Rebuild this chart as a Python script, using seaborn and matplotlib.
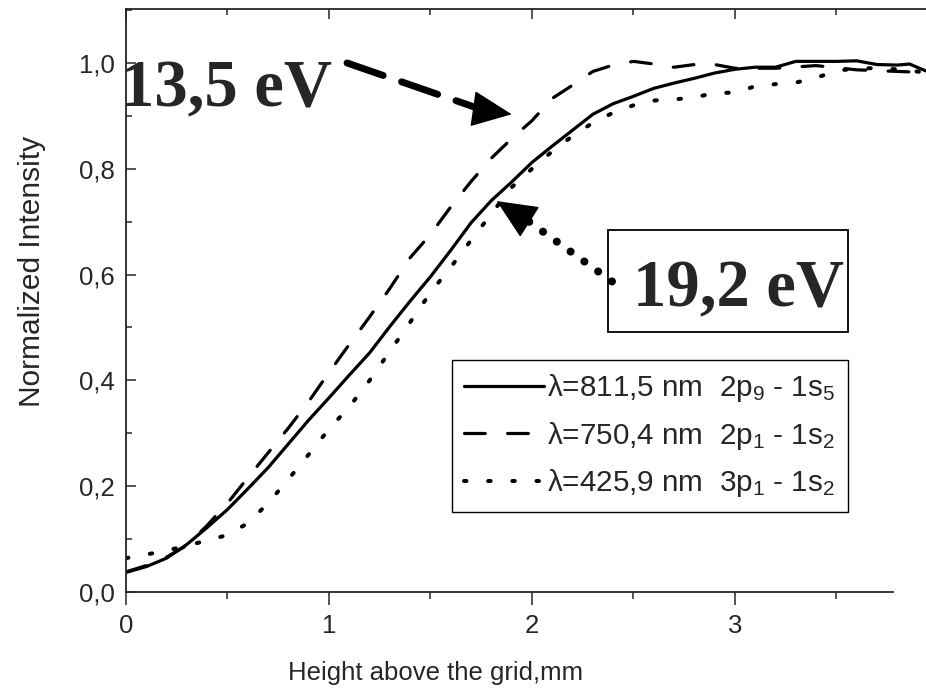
import matplotlib
matplotlib.use('Agg')
import matplotlib.pyplot as plt
import numpy as np
import seaborn as sns
from matplotlib.ticker import MultipleLocator, FuncFormatter
from matplotlib.patches import Rectangle

sns.set_style('ticks')
plt.rcParams['font.family'] = ['Liberation Sans', 'DejaVu Sans']
plt.rcParams['mathtext.fontset'] = 'custom'
plt.rcParams['mathtext.rm'] = 'Liberation Sans'
plt.rcParams['mathtext.it'] = 'Liberation Sans:italic'
plt.rcParams['mathtext.default'] = 'rm'

# Height above the grid (mm) vs normalized intensity
x_811 = [0.0, 0.1, 0.2, 0.3, 0.4, 0.5, 0.6, 0.7, 0.8, 0.9, 1.0, 1.1, 1.2, 1.3, 1.4,
         1.5, 1.6, 1.7, 1.8, 1.9, 2.0, 2.1, 2.2, 2.3, 2.4, 2.5, 2.6, 2.7, 2.8, 2.9,
         3.0, 3.1, 3.2, 3.3, 3.4, 3.5, 3.6, 3.7, 3.8, 3.86, 3.94]
y_811 = [0.037, 0.048, 0.064, 0.090, 0.122, 0.156, 0.195, 0.235, 0.280, 0.325, 0.367,
         0.410, 0.452, 0.502, 0.550, 0.596, 0.646, 0.698, 0.740, 0.775, 0.812, 0.843,
         0.873, 0.903, 0.923, 0.937, 0.952, 0.962, 0.971, 0.981, 0.988, 0.992, 0.992,
         1.003, 1.003, 1.003, 1.004, 0.997, 0.996, 0.998, 0.985]

x_750 = [0.0, 0.1, 0.2, 0.3, 0.4, 0.5, 0.6, 0.7, 0.8, 0.9, 1.0, 1.1, 1.2, 1.3, 1.4,
         1.5, 1.6, 1.7, 1.8, 1.9, 2.0, 2.1, 2.2, 2.3, 2.4, 2.5, 2.6, 2.7, 2.8, 2.9,
         3.0, 3.2, 3.4, 3.6, 3.8, 3.94]
y_750 = [0.038, 0.050, 0.066, 0.088, 0.126, 0.168, 0.216, 0.263, 0.310, 0.360, 0.415,
         0.468, 0.520, 0.574, 0.632, 0.676, 0.728, 0.776, 0.820, 0.857, 0.891, 0.933,
         0.958, 0.984, 0.996, 1.003, 0.998, 0.992, 0.997, 0.997, 0.990, 0.990, 0.995,
         0.987, 0.984, 0.982]

x_425 = [0.0, 0.1, 0.2, 0.3, 0.4, 0.5, 0.6, 0.7, 0.8, 0.9, 1.0, 1.1, 1.2, 1.3, 1.4,
         1.5, 1.6, 1.7, 1.8, 1.9, 2.0, 2.1, 2.2, 2.3, 2.4, 2.5, 2.6, 2.7, 2.8, 2.9,
         3.0, 3.1, 3.2, 3.3, 3.4, 3.5, 3.6, 3.7, 3.8, 3.94]
y_425 = [0.064, 0.071, 0.078, 0.088, 0.097, 0.108, 0.130, 0.168, 0.213, 0.260, 0.308,
         0.350, 0.400, 0.455, 0.510, 0.566, 0.614, 0.665, 0.715, 0.765, 0.800, 0.833,
         0.862, 0.887, 0.906, 0.920, 0.929, 0.931, 0.935, 0.943, 0.944, 0.956, 0.960,
         0.963, 0.972, 0.985, 0.990, 0.990, 0.988, 0.982]

labels = ['λ=811,5 nm  2p$_9$ - 1s$_5$',
          'λ=750,4 nm  2p$_1$ - 1s$_2$',
          'λ=425,9 nm  3p$_1$ - 1s$_2$']

comma = FuncFormatter(lambda v, p: f'{v:.1f}'.replace('.', ','))

fig = plt.figure(figsize=(9.26, 6.97), dpi=100)
ax = fig.add_axes([0.13607, 0.15065, 0.86393, 0.83644])

sns.lineplot(x=x_811, y=y_811, ax=ax, color='black', lw=2.3, errorbar=None,
             label=labels[0])
sns.lineplot(x=x_750, y=y_750, ax=ax, color='black', lw=2.3, errorbar=None,
             linestyle=(0, (6.5, 7)), dash_capstyle='round', label=labels[1])
sns.lineplot(x=x_425, y=y_425, ax=ax, color='black', lw=2.9, errorbar=None,
             linestyle=(0, (0.6, 5.4)), dash_capstyle='round', label=labels[2])

ax.set_xlim(0, 3.941)
ax.set_ylim(0, 1.102)
ax.xaxis.set_major_locator(MultipleLocator(1))
ax.xaxis.set_minor_locator(MultipleLocator(0.5))
ax.yaxis.set_major_locator(MultipleLocator(0.2))
ax.yaxis.set_minor_locator(MultipleLocator(0.1))
ax.yaxis.set_major_formatter(comma)

ax.spines['right'].set_visible(False)
ax.spines['top'].set_visible(False)
for s in ['left', 'bottom']:
    ax.spines[s].set_linewidth(1.3)
ax.spines['bottom'].set_bounds(0, 3.78)

ax.tick_params(axis='x', which='major', direction='out', length=9, width=1.1,
               labelsize=18.5, pad=7, top=False)
ax.tick_params(axis='x', which='minor', direction='out', length=5, width=1.1, top=False)
ax.tick_params(axis='y', which='major', direction='in', length=7.5, width=1.1,
               labelsize=18.5, pad=8, right=False)
ax.tick_params(axis='y', which='minor', direction='in', length=4.5, width=1.1, right=False)

top = ax.secondary_xaxis('top')
top.xaxis.set_major_locator(MultipleLocator(1))
top.xaxis.set_minor_locator(MultipleLocator(0.5))
top.tick_params(which='major', direction='in', length=7, width=1.1, labeltop=False)
top.tick_params(which='minor', direction='in', length=4.5, width=1.1)
top.spines['top'].set_linewidth(1.3)

ax.set_xlabel('Height above the grid,mm', fontsize=18.5)
ax.set_ylabel('Normalized Intensity', fontsize=21.5)
ax.xaxis.set_label_coords(0.3875, -0.118)
ax.yaxis.set_label_coords(-0.10, 0.55)

leg = ax.legend(loc='upper left', bbox_to_anchor=(0.4075, 0.398), borderaxespad=0,
                frameon=True, fancybox=False, edgecolor='black', framealpha=1,
                handlelength=2.7, handletextpad=0.1, borderpad=0.42,
                labelspacing=0.52, fontsize=21.3)
leg.get_frame().set_linewidth(1.0)

# big labels and arrows
serif = dict(family=['Liberation Serif', 'DejaVu Serif'], fontweight='bold', fontsize=48)
ax.text(-0.025, 0.917, '13,5 eV', ha='left', va='baseline', zorder=6, **serif)
ax.text(2.497, 0.540, '19,2 eV', ha='left', va='baseline', zorder=6, **serif)
ax.add_patch(Rectangle((2.374, 0.492), 1.183, 0.192, fill=False, ec='black', lw=1.3))

ax.annotate('', xy=(1.714, 0.917), xytext=(1.089, 1.0),
            arrowprops=dict(arrowstyle='-', lw=5, linestyle=(0, (5.5, 2.8)),
                            color='black', shrinkA=0, shrinkB=0))
ax.annotate('', xy=(1.900, 0.903), xytext=(1.719, 0.913),
            arrowprops=dict(arrowstyle='-|>,head_length=0.4,head_width=0.18',
                            mutation_scale=66, lw=1, color='black', shrinkA=0, shrinkB=0))
ax.annotate('', xy=(1.975, 0.703), xytext=(2.394, 0.587),
            arrowprops=dict(arrowstyle='-', lw=5.8, linestyle=(0, (0.01, 2.1)),
                            capstyle='round', color='black', shrinkA=0, shrinkB=0))
ax.annotate('', xy=(1.826, 0.739), xytext=(1.974, 0.703),
            arrowprops=dict(arrowstyle='-|>,head_length=0.4,head_width=0.18',
                            mutation_scale=66, lw=1, color='black', shrinkA=0, shrinkB=0))

fig.savefig('out.png', dpi=100)
